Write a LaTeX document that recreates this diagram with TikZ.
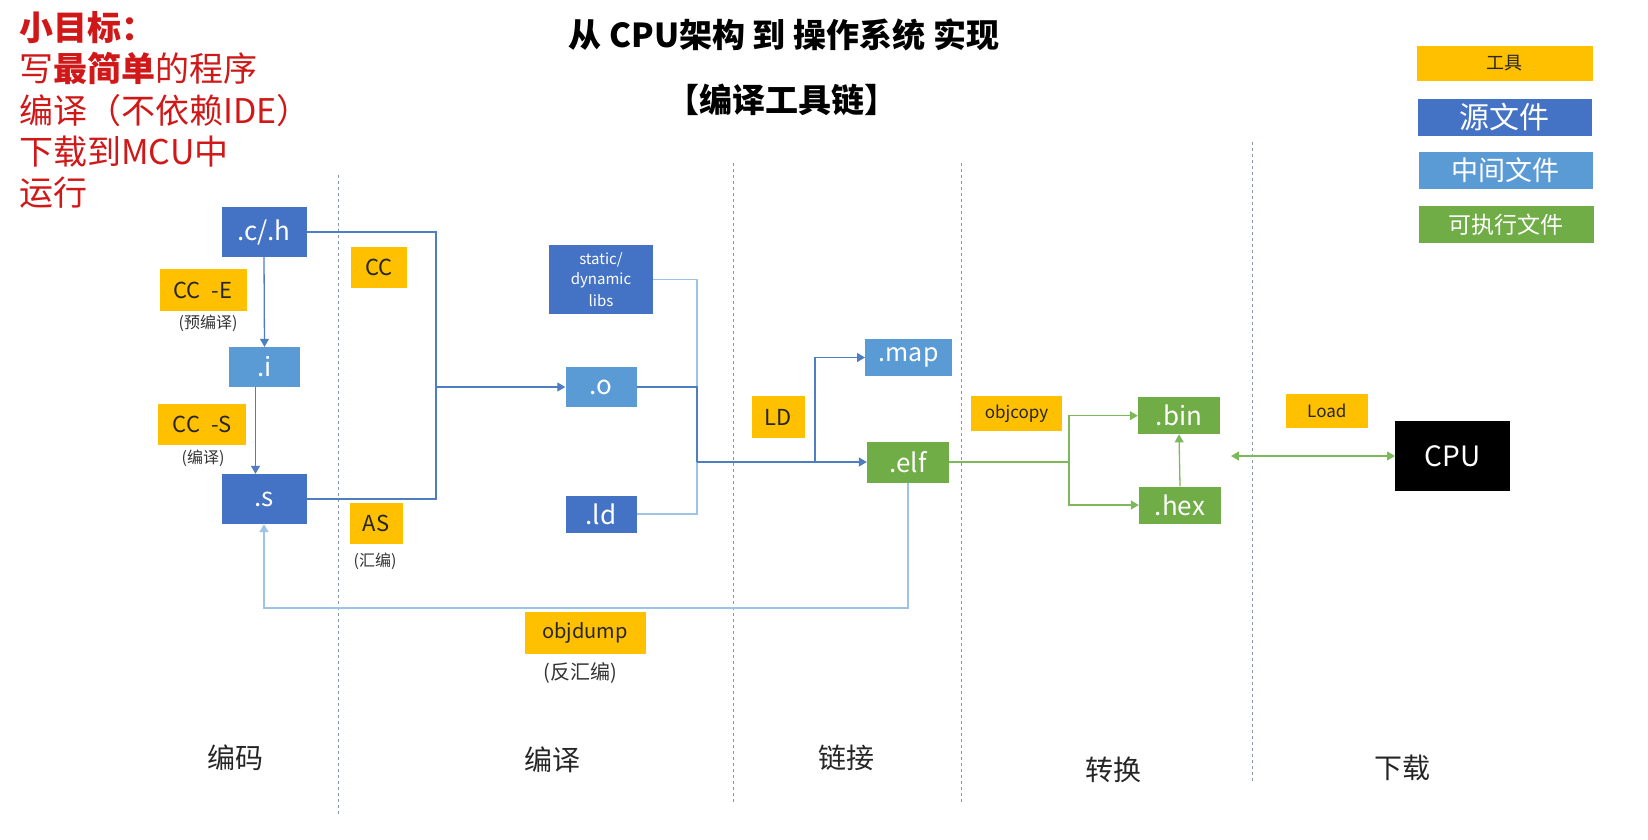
\documentclass[tikz,border=0pt]{standalone}
\usepackage{fontspec}
\setmainfont{Noto Sans CJK SC}
\usetikzlibrary{arrows.meta}
\definecolor{toolc}{HTML}{FFC000}
\definecolor{srcc}{HTML}{4472C4}
\definecolor{midc}{HTML}{5B9BD5}
\definecolor{exec}{HTML}{70AD47}
\definecolor{goalc}{HTML}{D01818}
\definecolor{linec}{HTML}{4E7DC2}
\definecolor{lightc}{HTML}{9DC3E6}
\definecolor{greenl}{HTML}{7DB85A}
\definecolor{sepc}{HTML}{8496B0}
\newcommand{\fs}[1]{\fontsize{#1}{#1}\selectfont}
\begin{document}
\begin{tikzpicture}[x=1pt,y=-1pt]
\tikzstyle{every node}+=[inner sep=0pt]
\tikzstyle{box}=[text=white,font=\fs{26}]
\tikzstyle{src}=[box,fill=srcc]
\tikzstyle{mid}=[box,fill=midc]
\tikzstyle{exe}=[box,fill=exec]
\tikzstyle{tool}=[fill=toolc,text=black!85,font=\fs{22}]
\tikzstyle{note}=[text=black!80,font=\fs{16}]
\tikzstyle{stage}=[text=black!85,font=\fs{28}]
\tikzstyle{goal}=[anchor=west,text=goalc,font=\fs{34}]
\tikzstyle{bline}=[linec,line width=1.3]
\tikzstyle{lline}=[lightc,line width=1.3]
\tikzstyle{gline}=[greenl,line width=1.3]
\tikzstyle{tip}=[-{Triangle[width=9pt,length=8pt]}]
\tikzstyle{sep}=[sepc,dashed,line width=0.9]
\useasboundingbox (0,0) rectangle (1648,839);
% heading
\node[font=\fs{33}\bfseries] (title) at (784,35) {从 CPU架构 到 操作系统 实现};
\node[font=\fs{33}\bfseries] (sub) at (782,100) {【编译工具链】};
\node[goal] (g1) at (19,28) {\textbf{小目标：}};
\node[goal] (g2) at (19,68) {写\textbf{最简单}的程序};
\node[goal] (g3) at (19,111) {编译（不依赖IDE）};
\node[goal] (g4) at (19,152) {下载到MCU中};
\node[goal] (g5) at (19,193) {运行};
% legend
\node[tool,minimum width=176,minimum height=35,font=\fs{18}] (lg1) at (1504.7,63.2) {工具};
\node[src,minimum width=174,minimum height=37,font=\fs{30}] (lg2) at (1504.7,117.2) {源文件};
\node[mid,minimum width=174,minimum height=37,font=\fs{27}] (lg3) at (1505.7,170) {中间文件};
\node[exe,minimum width=175,minimum height=37,font=\fs{23}] (lg4) at (1506,224.7) {可执行文件};
% stages
\draw[sep] (338,175) -- (338,816);
\draw[sep] (733,163) -- (733,803);
\draw[sep] (961,163) -- (961,803);
\draw[sep] (1252,142) -- (1252,783);
\node[stage] (st1) at (235,758) {编码};
\node[stage] (st2) at (552,760) {编译};
\node[stage] (st3) at (846,758) {链接};
\node[stage] (st4) at (1113,770) {转换};
\node[stage] (st5) at (1402,768) {下载};
% files
\node[src,minimum width=85,minimum height=50] (ch) at (264,232) {.c/.h};
\node[mid,minimum width=71,minimum height=40] (i) at (264.5,367) {.i};
\node[src,minimum width=85,minimum height=50] (s) at (264,499) {.s};
\node[src,minimum width=104,minimum height=69,font=\fs{15},align=center] (libs) at (601,279.5) {static/\\[5pt]dynamic\\[5pt]libs};
\node[mid,minimum width=71,minimum height=40] (o) at (601,387) {.o};
\node[src,minimum width=71,minimum height=37] (ld) at (601,514) {.ld};
\node[mid,minimum width=87,minimum height=37,font=\fs{25}] (map) at (908.7,357.5) {.map};
\node[exe,minimum width=82,minimum height=41] (elf) at (908,462) {.elf};
\node[exe,minimum width=82,minimum height=37] (bin) at (1179,415.7) {.bin};
\node[exe,minimum width=82,minimum height=37] (hex) at (1180,505) {.hex};
\node[fill=black,text=white,font=\fs{28},minimum width=115,minimum height=70] (cpu) at (1452.7,456) {CPU};
% tools
\node[tool,minimum width=87,minimum height=42] (cce) at (203,290) {CC\enspace-E};
\node[note] (pre) at (208,323) {(预编译)};
\node[tool,minimum width=88,minimum height=41] (ccs) at (202,424) {CC\enspace-S};
\node[note] (cmp) at (203,458) {(编译)};
\node[tool,minimum width=56,minimum height=41] (cc) at (379,267.5) {CC};
\node[tool,minimum width=53,minimum height=41] (as) at (376,523.5) {AS};
\node[note] (asm) at (375,561) {(汇编)};
\node[tool,minimum width=53,minimum height=42] (ldt) at (778.5,417) {LD};
\node[tool,minimum width=121,minimum height=42,font=\fs{20}] (od) at (585,632.7) {objdump};
\node[note,font=\fs{20}] (dis) at (580.5,673) {(反汇编)};
\node[tool,minimum width=91,minimum height=35,font=\fs{17}] (ocp) at (1016.5,413.5) {objcopy};
\node[tool,minimum width=82,minimum height=34,font=\fs{17}] (load) at (1326.8,410.5) {Load};
% connectors
\coordinate (jc) at (436,387);
\coordinate (jl) at (697,462);
\coordinate (jm) at (815,462);
\coordinate (jd) at (264,608);
\coordinate (jb) at (1069,462);
\coordinate (lc) at (1231,456);
\draw[bline,tip] (ch.south) -- (i.north);
\draw[bline,tip] ([xshift=-9pt]i.south) -- ([xshift=-8.5pt]s.north);
\draw[bline] (ch.east) -| (jc) |- (s.east);
\draw[bline,tip] (jc) -- (o.west);
\draw[lline] (libs.east) -| (jl);
\draw[lline] (ld.east) -| (jl);
\draw[bline] (o.east) -| (jl);
\draw[bline,tip] (jl) -- (elf.west);
\draw[bline,tip] (jm) |- (map.west);
\draw[lline,tip] (elf.south) |- (jd) -- (s.south);
\draw[gline] (elf.east) -- (jb);
\draw[gline,tip] (jb) |- (bin.west);
\draw[gline,tip] (jb) |- (hex.west);
\draw[gline,tip] (hex.north) -- (bin.south);
\draw[gline,{Triangle[width=9pt,length=8pt]}-{Triangle[width=9pt,length=8pt]}] (lc) -- (cpu.west);
\end{tikzpicture}
\end{document}
